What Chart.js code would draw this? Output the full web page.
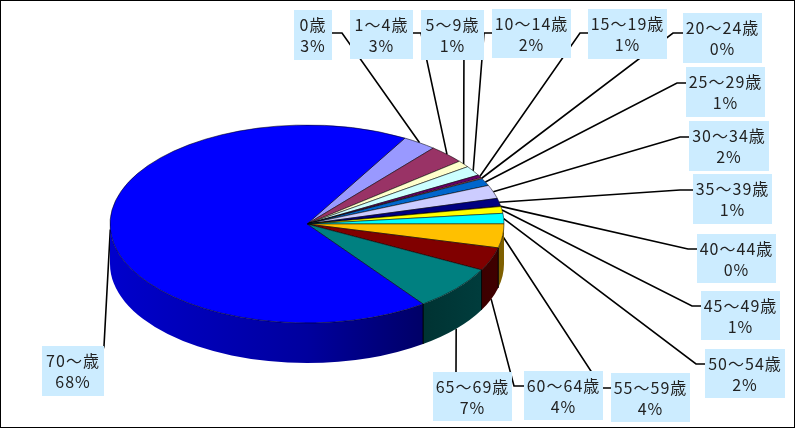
<!DOCTYPE html>
<html>
<head>
<meta charset="utf-8">
<script src="https://cdn.jsdelivr.net/npm/chart.js@4"></script>
<style>
  html, body { margin: 0; background: #fff; }
  canvas { display: block; }
</style>
</head>
<body>
<canvas id="graf" width="795" height="428"></canvas>
<script>
const categories = ['0歳', '1〜4歳', '5〜9歳', '10〜14歳', '15〜19歳', '20〜24歳', '25〜29歳', '30〜34歳',
  '35〜39歳', '40〜44歳', '45〜49歳', '50〜54歳', '55〜59歳', '60〜64歳', '65〜69歳', '70〜歳'];
const values = [2.8, 3.0, 1.1, 1.6, 0.5, 0.15, 1.2, 2.2, 1.3, 0.05, 1.1, 1.7, 3.9, 3.8, 7.3, 68.3];
const percentLabels = ['3%', '3%', '1%', '2%', '1%', '0%', '1%', '2%', '1%', '0%', '1%', '2%', '4%', '4%', '7%', '68%'];
const colors = ['#9999FF', '#993366', '#FFFFCC', '#CCFFFF', '#660066', '#FF8080', '#0066CC', '#CCCCFF',
  '#000080', '#FF00FF', '#FFFF00', '#00FFFF', '#FFC000', '#800000', '#008080', '#0000FF'];

// label boxes [left, top, right, bottom] and the bend of each leader line
const boxes = [[294, 10, 332, 60], [350, 10, 413, 59], [421, 10, 484, 60], [492, 9, 571, 58],
  [588, 9, 667, 59], [683, 13, 762, 63], [686, 67, 765, 117], [689, 121, 769, 171],
  [693, 174, 772, 224], [697, 234, 776, 283], [701, 291, 780, 340], [705, 349, 785, 398],
  [611, 373, 690, 422], [524, 371, 603, 420], [433, 372, 512, 421], [42, 346, 104, 396]];
const leaderStart = [[332, 33], [413, 33], [464, 35], [492, 33], [588, 33], [683, 33], [686, 83], [689, 137],
  [693, 190], [697, 249], [701, 306], [705, 364], [611, 388], [524, 386], [456, 380], [100, 360]];
const leaderBend = [[342, 33], [421, 33], [464, 36], [484, 33], [580, 33], [673, 33], [677, 83], [680, 137],
  [680, 190], [688, 249], [692, 306], [696, 364], [602, 388], [514, 386], [456, 372], [104, 346]];

const tilt = 0.5025;
const depth = 40;

function shade(hex, f) {
  const n = parseInt(hex.slice(1), 16);
  return `rgb(${(n >> 16) * f | 0},${((n >> 8) & 255) * f | 0},${(n & 255) * f | 0})`;
}

const pie3d = {
  id: 'pie3d',
  beforeDatasetDraw(chart) {
    const ctx = chart.ctx;
    const arcs = chart.getDatasetMeta(0).data;
    const cx = arcs[0].x, cy = arcs[0].y, r = arcs[0].outerRadius;

    // leader lines go under the pie
    ctx.save();
    ctx.strokeStyle = '#000';
    ctx.lineWidth = 1.6;
    arcs.forEach((arc, i) => {
      const mid = (arc.startAngle + arc.endAngle) / 2;
      const s = Math.sin(mid);
      const ex = cx + r * Math.cos(mid);
      const ey = cy + r * tilt * s + (s > 0.3 ? depth : 0);
      ctx.beginPath();
      ctx.moveTo(leaderStart[i][0], leaderStart[i][1]);
      ctx.lineTo(leaderBend[i][0], leaderBend[i][1]);
      ctx.lineTo(ex, ey);
      ctx.stroke();
    });

    // side wall of the visible front half
    arcs.forEach((arc, i) => {
      const a0 = Math.max(arc.startAngle, 0);
      const a1 = Math.min(arc.endAngle, Math.PI);
      if (a1 <= a0) return;
      const g = ctx.createLinearGradient(cx - r, 0, cx + r, 0);
      g.addColorStop(0, shade(colors[i], 0.8));
      g.addColorStop(0.5, shade(colors[i], 0.62));
      g.addColorStop(0.8, shade(colors[i], 0.4));
      g.addColorStop(1, shade(colors[i], 0.5));
      ctx.beginPath();
      ctx.ellipse(cx, cy, r, r * tilt, 0, a0, a1);
      ctx.ellipse(cx, cy + depth, r, r * tilt, 0, a1, a0, true);
      ctx.closePath();
      ctx.fillStyle = g;
      ctx.fill();
      // only the slice boundaries get a dark edge
      ctx.lineWidth = 0.8;
      [a0, a1].forEach(a => {
        if (a === 0 || a === Math.PI) return;
        const x = cx + r * Math.cos(a);
        const y = cy + r * tilt * Math.sin(a);
        ctx.beginPath();
        ctx.moveTo(x, y);
        ctx.lineTo(x, y + depth);
        ctx.stroke();
      });
    });
    ctx.restore();

    // squash the library's round pie into the tilted ellipse
    ctx.save();
    ctx.translate(cx, cy);
    ctx.scale(1, tilt);
    ctx.translate(-cx, -cy);
  },
  afterDatasetDraw(chart) {
    chart.ctx.restore();
  },
  afterDraw(chart) {
    const ctx = chart.ctx;
    ctx.save();
    ctx.textAlign = 'center';
    ctx.textBaseline = 'middle';
    ctx.font = '16px "Noto Sans CJK JP"';
    ctx.letterSpacing = '1px';
    boxes.forEach((b, i) => {
      ctx.fillStyle = '#CCECFF';
      ctx.fillRect(b[0], b[1], b[2] - b[0], b[3] - b[1]);
      ctx.fillStyle = '#222';
      const mx = (b[0] + b[2]) / 2;
      ctx.fillText(categories[i], mx, b[1] + 15);
      ctx.fillText(percentLabels[i], mx, b[1] + 36);
    });
    ctx.strokeStyle = '#000';
    ctx.lineWidth = 1;
    ctx.strokeRect(0.5, 0.5, 794, 427);
    ctx.restore();
  }
};

new Chart(document.getElementById('graf'), {
  type: 'pie',
  data: {
    labels: categories,
    datasets: [{
      data: values,
      backgroundColor: colors,
      borderColor: '#000',
      borderWidth: 0.7
    }]
  },
  options: {
    responsive: false,
    animation: false,
    devicePixelRatio: 1,
    rotation: 29.8,
    radius: 197,
    layout: { padding: { top: 20, right: 181 } },
    plugins: { legend: { display: false }, tooltip: { enabled: false } }
  },
  plugins: [pie3d]
});
</script>
</body>
</html>
